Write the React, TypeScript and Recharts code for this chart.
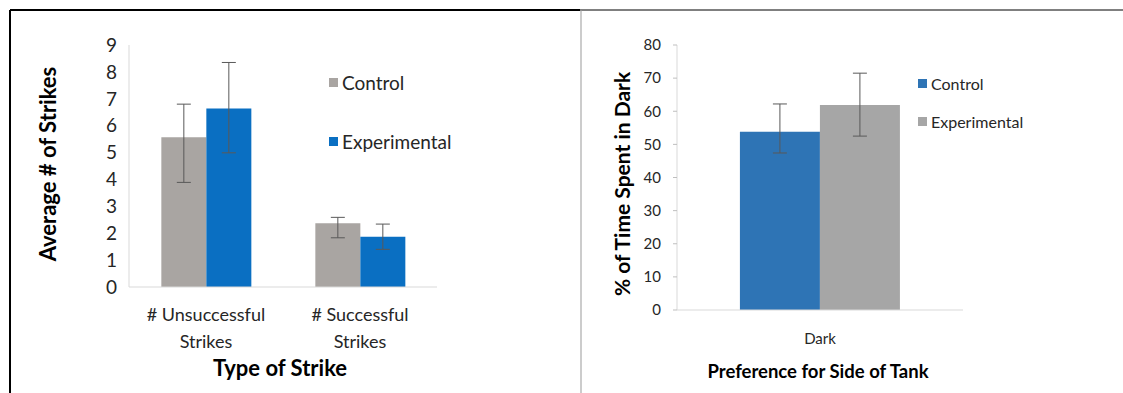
import React from 'react';
import { BarChart, Bar, XAxis, YAxis, ErrorBar, Legend } from 'recharts';

const strikeCategories = ['# Unsuccessful Strikes', '# Successful Strikes'];
const strikeControl = [5.57, 2.37];
const strikeControlErrLow = [1.68, 0.54];
const strikeControlErrHigh = [1.23, 0.22];
const strikeExperimental = [6.64, 1.87];
const strikeExperimentalErrLow = [1.65, 0.47];
const strikeExperimentalErrHigh = [1.71, 0.47];
const strikeTicks = [0, 1, 2, 3, 4, 5, 6, 7, 8, 9];

const darkCategories = ['Dark'];
const darkControl = [53.8];
const darkControlErrLow = [6.4];
const darkControlErrHigh = [8.4];
const darkExperimental = [61.9];
const darkExperimentalErrLow = [9.4];
const darkExperimentalErrHigh = [9.6];
const darkTicks = [0, 10, 20, 30, 40, 50, 60, 70, 80];

const FONT = 'Lato, "Open Sans", sans-serif';

const strikeData = strikeCategories.map((c, i) => ({
  name: c,
  control: strikeControl[i],
  controlErr: [strikeControlErrLow[i], strikeControlErrHigh[i]],
  experimental: strikeExperimental[i],
  experimentalErr: [strikeExperimentalErrLow[i], strikeExperimentalErrHigh[i]],
}));

const darkData = darkCategories.map((c, i) => ({
  name: c,
  control: darkControl[i],
  controlErr: [darkControlErrLow[i], darkControlErrHigh[i]],
  experimental: darkExperimental[i],
  experimentalErr: [darkExperimentalErrLow[i], darkExperimentalErrHigh[i]],
}));

const CatTick = (props: any) => {
  const { x, y, payload, fontSize, firstDy, lineH } = props;
  const v: string = payload.value;
  const idx = v.lastIndexOf(' ');
  const lines = idx > 0 && v.length > 8 ? [v.slice(0, idx), v.slice(idx + 1)] : [v];
  return (
    <text x={x} y={y + firstDy} textAnchor="middle" fontSize={fontSize} fill="#262626" fontFamily={FONT}>
      {lines.map((l, i) => (
        <tspan key={i} x={x} dy={i === 0 ? 0 : lineH}>{l}</tspan>
      ))}
    </text>
  );
};

const makeLegend = (fontSize: number, gap: number) => (props: any) => {
  const { payload } = props;
  return (
    <div style={{ fontFamily: FONT, fontSize, color: '#262626' }}>
      {payload.map((p: any, i: number) => (
        <div key={i} style={{ display: 'flex', alignItems: 'center', height: 20, marginBottom: i === payload.length - 1 ? 0 : gap - 20 }}>
          <span style={{ display: 'inline-block', width: 9, height: 9, background: p.color, marginRight: 4 }} />
          <span>{p.value}</span>
        </div>
      ))}
    </div>
  );
};

export default function App() {
  return (
    <div style={{ position: 'absolute', left: 0, top: 0, width: 1123, height: 393, background: '#fff', overflow: 'hidden' }}>
      <div style={{ position: 'absolute', left: 0, top: 0 }}>
        <BarChart
          width={560}
          height={393}
          data={strikeData}
          margin={{ top: 45, right: 123, bottom: 46, left: 0 }}
          barCategoryGap="21%"
          barGap={0}
        >
          <XAxis
            dataKey="name"
            height={60}
            axisLine={{ stroke: '#d9d9d9' }}
            tickLine={false}
            tickSize={0}
            tickMargin={0}
            tick={<CatTick fontSize={18} firstDy={34} lineH={27} />}
            interval={0}
          />
          <YAxis
            width={129}
            domain={[0, 9]}
            ticks={strikeTicks}
            axisLine={{ stroke: '#d9d9d9' }}
            tickLine={false}
            tickSize={0}
            tickMargin={12}
            tick={{ fontSize: 19, fill: '#262626', fontFamily: FONT }}
            interval={0}
          />
          <Legend
            layout="vertical"
            align="center"
            verticalAlign="middle"
            content={makeLegend(19, 59)}
            wrapperStyle={{ position: 'absolute', left: 329, top: 72, width: 180 }}
          />
          <Bar dataKey="control" name="Control" fill="#A9A5A2" isAnimationActive={false}>
            <ErrorBar dataKey="controlErr" stroke="#595959" width={7} strokeWidth={1} />
          </Bar>
          <Bar dataKey="experimental" name="Experimental" fill="#0A6FC2" isAnimationActive={false}>
            <ErrorBar dataKey="experimentalErr" stroke="#595959" width={7} strokeWidth={1} />
          </Bar>
        </BarChart>
      </div>

      <div style={{ position: 'absolute', left: 560, top: 0 }}>
        <BarChart
          width={563}
          height={393}
          data={darkData}
          margin={{ top: 45, right: 160, bottom: 43, left: 0 }}
          barCategoryGap="22%"
          barGap={0}
        >
          <XAxis
            dataKey="name"
            height={40}
            axisLine={{ stroke: '#d9d9d9' }}
            tickLine={false}
            tickSize={0}
            tickMargin={0}
            tick={<CatTick fontSize={15} firstDy={34} lineH={20} />}
          />
          <YAxis
            width={117}
            domain={[0, 80]}
            ticks={darkTicks}
            axisLine={{ stroke: '#d9d9d9' }}
            tickLine={{ stroke: '#bfbfbf' }}
            tickSize={4}
            tickMargin={12}
            tick={{ fontSize: 15, fill: '#262626', fontFamily: FONT }}
            interval={0}
          />
          <Legend
            layout="vertical"
            align="center"
            verticalAlign="middle"
            content={makeLegend(16, 38)}
            wrapperStyle={{ position: 'absolute', left: 358, top: 73, width: 150 }}
          />
          <Bar dataKey="control" name="Control" fill="#2E74B5" isAnimationActive={false}>
            <ErrorBar dataKey="controlErr" stroke="#595959" width={7} strokeWidth={1} />
          </Bar>
          <Bar dataKey="experimental" name="Experimental" fill="#A6A6A6" isAnimationActive={false}>
            <ErrorBar dataKey="experimentalErr" stroke="#595959" width={7} strokeWidth={1} />
          </Bar>
        </BarChart>
      </div>

      <svg width={1123} height={393} style={{ position: 'absolute', left: 0, top: 0, pointerEvents: 'none' }}>
        <line x1={10} y1={10} x2={580} y2={10} stroke="#000" strokeWidth={2} />
        <line x1={580} y1={10} x2={1123} y2={10} stroke="#000" strokeWidth={1} />
        <line x1={10} y1={10} x2={10} y2={393} stroke="#000" strokeWidth={2} />
        <line x1={581} y1={10} x2={581} y2={393} stroke="#999" strokeWidth={1} />
        <text x={280} y={376} textAnchor="middle" fontSize={22} fontWeight="bold" fill="#000" fontFamily={FONT}>Type of Strike</text>
        <text x={0} y={0} transform="translate(56,164) rotate(-90)" textAnchor="middle" fontSize={22} fontWeight="bold" fill="#000" fontFamily={FONT}>Average # of Strikes</text>
        <text x={818} y={378} textAnchor="middle" fontSize={18.5} fontWeight="bold" fill="#000" fontFamily={FONT}>Preference for Side of Tank</text>
        <text x={0} y={0} transform="translate(630,184) rotate(-90)" textAnchor="middle" fontSize={21} fontWeight="bold" fill="#000" fontFamily={FONT}>% of Time Spent in Dark</text>
      </svg>
    </div>
  );
}
